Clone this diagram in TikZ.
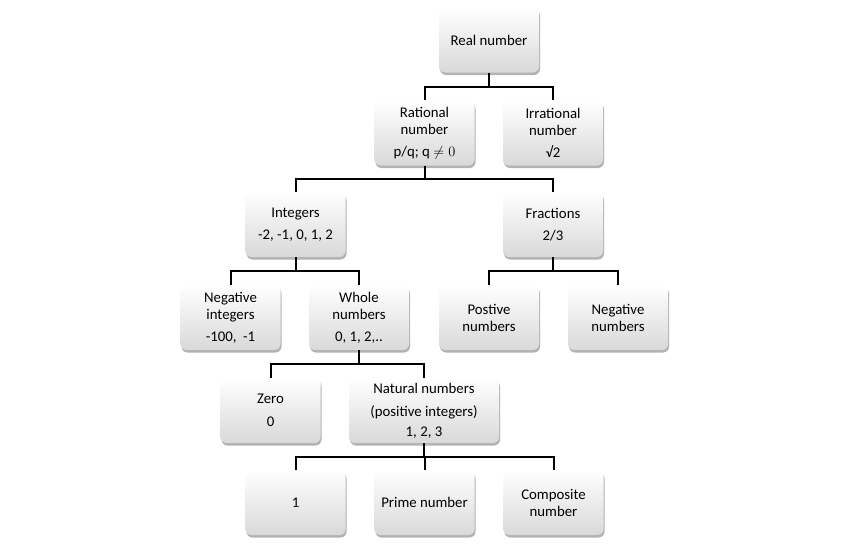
\documentclass[tikz,border=0pt]{standalone}
\usepackage{fontspec}
\setmainfont{Carlito}
\usetikzlibrary{shadows}
\begin{document}
\begin{tikzpicture}[x=1pt,y=-1pt,
  box/.style={rectangle, rounded corners=6pt, minimum width=100pt, minimum height=65pt,
    inner sep=2pt, align=center, top color=white, bottom color=black!15, draw=none,
    drop shadow={shadow xshift=1pt, shadow yshift=-2.5pt, fill=black, opacity=0.3},
    font=\fontsize{14.8}{17}\selectfont, text=black},
  link/.style={line width=2pt, draw=black}]
\useasboundingbox (0,0) rectangle (849,549);
\node[box] (real) at (489,40) {Real number};
\node[box] (rat) at (424.5,133) {Rational\\number\\[5pt]p/q; q $\neq 0$};
\node[box] (irr) at (553,133) {Irrational\\number\\[5pt]√2};
\node[box] (int) at (295.5,224.5) {Integers\\[5pt]-2, -1, 0, 1, 2};
\node[box] (frac) at (553,224.5) {Fractions\\[5pt]2/3};
\node[box] (negint) at (230.5,317.5) {Negative\\integers\\[5pt]-100,~ -1};
\node[box] (whole) at (359,317.5) {Whole\\numbers\\[5pt]0, 1, 2,..};
\node[box] (pos) at (489,317.5) {Postive\\numbers};
\node[box] (negnum) at (618,317.5) {Negative\\numbers};
\node[box] (zero) at (270.5,410.5) {Zero\\[6pt]0};
\node[box, minimum width=150pt] (nat) at (424,410.5) {Natural numbers\\[6pt](positive integers)\\[3pt]1, 2, 3};
\node[box] (one) at (295.5,502.5) {1};
\node[box] (prime) at (424.5,502.5) {Prime number};
\node[box] (comp) at (553.5,502.5) {Composite\\number};
\draw[link] (real.south) -- ++(0,14) -| (rat.north);
\draw[link] (real.south) -- ++(0,14) -| (irr.north);
\draw[link] (rat.south) -- ++(0,13.5) -| (int.north);
\draw[link] (rat.south) -- ++(0,13.5) -| (frac.north);
\draw[link] (int.south) -- ++(0,14) -| (negint.north);
\draw[link] (int.south) -- ++(0,14) -| (whole.north);
\draw[link] (frac.south) -- ++(0,14) -| (pos.north);
\draw[link] (frac.south) -- ++(0,14) -| (negnum.north);
\draw[link] (whole.south) -- ++(0,14) -| (zero.north);
\draw[link] (whole.south) -- ++(0,14) -| (nat.north);
\draw[link] (nat.south) -- ++(0,14) -| (one.north);
\draw[link] (nat.south) -- ++(0,14) -| (prime.north);
\draw[link] (nat.south) -- ++(0,14) -| (comp.north);
\end{tikzpicture}
\end{document}
